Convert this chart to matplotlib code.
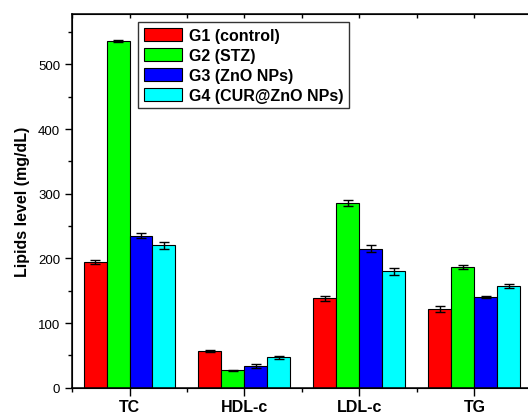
import matplotlib

matplotlib.use("Agg")
import matplotlib.pyplot as plt
import numpy as np
from matplotlib.ticker import MultipleLocator

plt.rcParams["font.family"] = ["Liberation Sans", "DejaVu Sans"]

categories = ["TC", "HDL-c", "LDL-c", "TG"]
groups = ["G1 (control)", "G2 (STZ)", "G3 (ZnO NPs)", "G4 (CUR@ZnO NPs)"]
colors = ["#ff0000", "#00ff00", "#0000ff", "#00ffff"]

g1 = [195, 57, 138, 122]
g2 = [536, 27, 286, 187]
g3 = [235, 34, 215, 140]
g4 = [220, 47, 180, 157]

g1_err = [3, 2, 4, 5]
g2_err = [2, 1, 5, 3]
g3_err = [4, 3, 5, 2]
g4_err = [5, 2, 5, 3]

values = [g1, g2, g3, g4]
errors = [g1_err, g2_err, g3_err, g4_err]

fig = plt.figure(figsize=(5.28, 4.14), dpi=100)
ax = fig.add_axes([0.1364, 0.0611, 0.871, 0.9027])

x = np.arange(1, len(categories) + 1)
width = 0.2
for i, (vals, errs) in enumerate(zip(values, errors)):
    pos = x + (i - 1.5) * width
    ax.bar(pos, vals, width, color=colors[i], edgecolor="black", linewidth=0.8,
           label=groups[i], zorder=2)
    ax.errorbar(pos, vals, yerr=errs, fmt="none", ecolor="black", elinewidth=1,
                capsize=3.5, capthick=1, zorder=3)

ax.set_xlim(0.5, 4.5)
ax.set_ylim(0, 578)
ax.set_xticks(x)
ax.set_xticklabels(categories, fontsize=11.5, fontweight="bold")
ax.xaxis.set_minor_locator(MultipleLocator(1.0, offset=0.5))
ax.yaxis.set_major_locator(MultipleLocator(100))
ax.yaxis.set_minor_locator(MultipleLocator(50))
ax.tick_params(axis="y", labelsize=9.5, direction="out", length=5, width=1)
ax.tick_params(axis="y", which="minor", direction="out", length=3, width=1)
ax.tick_params(axis="x", direction="out", length=6, width=1, pad=2)
ax.tick_params(axis="x", which="minor", direction="out", length=3, width=1)
for s in ax.spines.values():
    s.set_linewidth(1.1)

# mirrored ticks on top, pointing inward
top = ax.twiny()
top.set_xlim(ax.get_xlim())
top.set_xticks(x)
top.xaxis.set_minor_locator(MultipleLocator(1.0, offset=0.5))
top.tick_params(axis="x", which="both", direction="in", length=3, width=1, labeltop=False)

ax.set_ylabel("Lipids level (mg/dL)", fontsize=11.5, fontweight="bold", labelpad=6)

ax.legend(loc="upper left", bbox_to_anchor=(0.144, 0.978),
          prop={"weight": "bold", "size": 11.5}, frameon=True, fancybox=False,
          edgecolor="black", handlelength=2.4, handleheight=0.9,
          labelspacing=0.3, handletextpad=0.4, borderpad=0.35, borderaxespad=0)

fig.savefig("out.png", dpi=100)
